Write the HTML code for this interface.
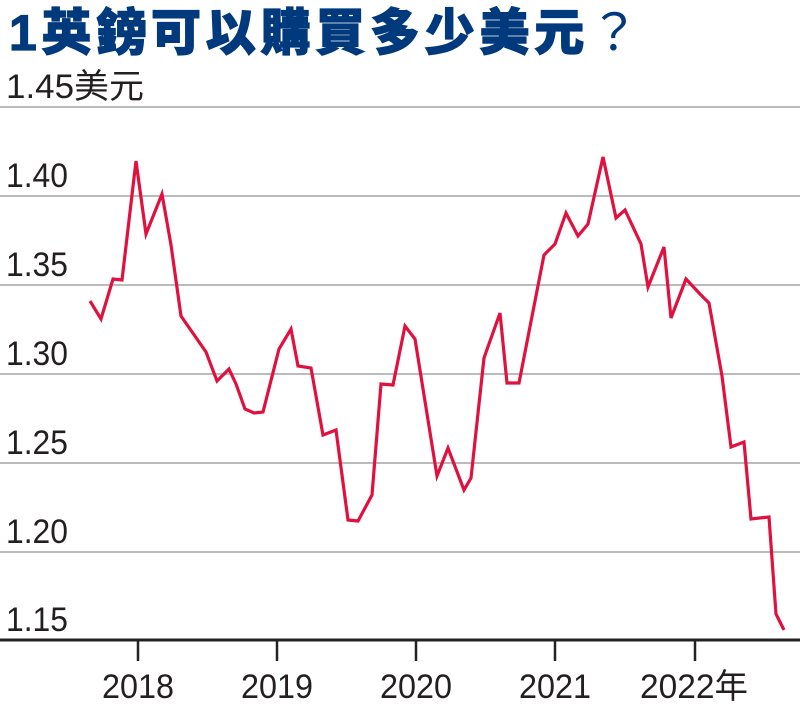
<!DOCTYPE html>
<html><head><meta charset="utf-8"><style>
body{margin:0;background:#fff;}
svg{display:block}
</style></head><body>
<svg width="800" height="719" xmlns="http://www.w3.org/2000/svg">
<text x="9" y="50" font-family="'Liberation Sans','Noto Sans CJK TC',sans-serif" font-weight="900" font-size="50" fill="#003a7d" stroke="#003a7d" stroke-width="1.2" textLength="630" lengthAdjust="spacing">1英鎊可以購買多少美元<tspan font-weight="normal" stroke-width="0">？</tspan></text>
<g stroke="#bbb" stroke-width="2">
<line x1="0" y1="107" x2="800" y2="107"/>
<line x1="0" y1="196" x2="800" y2="196"/>
<line x1="0" y1="285" x2="800" y2="285"/>
<line x1="0" y1="374" x2="800" y2="374"/>
<line x1="0" y1="463" x2="800" y2="463"/>
<line x1="0" y1="552" x2="800" y2="552"/>
</g>
<line x1="0" y1="640" x2="800" y2="640" stroke="#222" stroke-width="3"/>
<g stroke="#222" stroke-width="2.5">
<line x1="138" y1="640" x2="138" y2="661"/>
<line x1="277" y1="640" x2="277" y2="661"/>
<line x1="416" y1="640" x2="416" y2="661"/>
<line x1="555" y1="640" x2="555" y2="661"/>
<line x1="695" y1="640" x2="695" y2="661"/>
</g>
<g font-family="'Liberation Sans','Noto Sans CJK TC',sans-serif" font-size="34" fill="#231f20">
<text x="6" y="98" textLength="138" lengthAdjust="spacingAndGlyphs">1.45美元</text>
<text x="6" y="187" textLength="62" lengthAdjust="spacingAndGlyphs">1.40</text>
<text x="6" y="276" textLength="62" lengthAdjust="spacingAndGlyphs">1.35</text>
<text x="6" y="365" textLength="62" lengthAdjust="spacingAndGlyphs">1.30</text>
<text x="6" y="454" textLength="62" lengthAdjust="spacingAndGlyphs">1.25</text>
<text x="6" y="543" textLength="62" lengthAdjust="spacingAndGlyphs">1.20</text>
<text x="6" y="631" textLength="62" lengthAdjust="spacingAndGlyphs">1.15</text>
<text x="102" y="698" textLength="72" lengthAdjust="spacingAndGlyphs">2018</text>
<text x="241" y="698" textLength="72" lengthAdjust="spacingAndGlyphs">2019</text>
<text x="380" y="698" textLength="72" lengthAdjust="spacingAndGlyphs">2020</text>
<text x="519" y="698" textLength="72" lengthAdjust="spacingAndGlyphs">2021</text>
<text x="640" y="698" textLength="108" lengthAdjust="spacingAndGlyphs">2022年</text>
</g>
<polyline fill="none" stroke="#e0113f" stroke-width="3.2" stroke-linejoin="miter" points="90,301 101,319 113,279 122,280 136,161 146,234 162,194 171,245 181,316 206,352 217,381 229,369 236,384 245,409 254,413 263,412 279,349 291,329 298,366 311,368 323,435 336,430 348,520 358,521 372,495 381,384 393,385 405,326 415,339 437,476 448,448 464,490 471,478 484,358 500,313 507,383 519,383 544,255 555,244 566,213 578,236 588,224 603,157 616,218 625,210 641,244 648,287 664,247 671,318 686,279 700,294 709,303 722,376 731,447 744,442 751,519 769,517 776,614 784,630"/>
</svg>
</body></html>
